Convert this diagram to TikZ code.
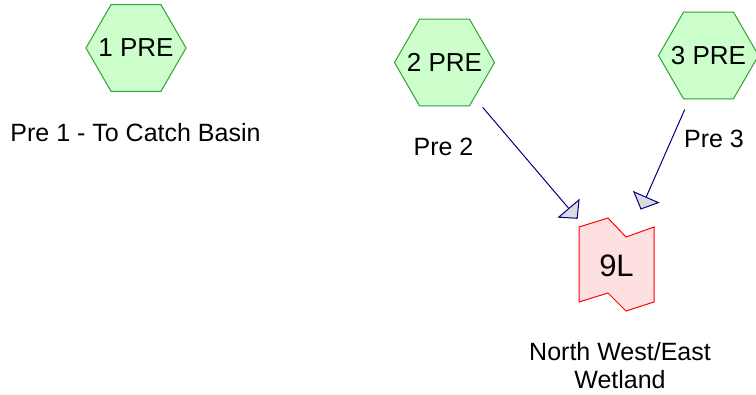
\documentclass[tikz,border=0pt]{standalone}
\usepackage{fontspec}
\setmainfont{Liberation Sans}
\usetikzlibrary{shapes.geometric,arrows.meta,calc}
\definecolor{hexfill}{RGB}{204,255,204}
\definecolor{hexdraw}{RGB}{51,160,51}
\definecolor{wetfill}{RGB}{255,224,224}
\definecolor{wetdraw}{RGB}{255,0,0}
\definecolor{arrdraw}{RGB}{0,0,128}
\definecolor{tipfill}{RGB}{220,220,220}
\begin{document}
\begin{tikzpicture}[x=1pt,y=-1pt,
  hexnode/.style={regular polygon, regular polygon sides=6, minimum size=100pt, inner sep=0pt,
    fill=hexfill, draw=hexdraw, line width=1pt,
    label={[font=\fontsize{26}{30}\selectfont, inner sep=0pt]center:#1}},
  lbl/.style={font=\fontsize{25}{28}\selectfont, align=center, inner sep=0pt},
  wetshape/.style={draw=wetdraw, fill=wetfill, line width=1pt, line join=miter},
  flow/.style={draw=arrdraw, line width=1pt,
    -{Triangle[length=14pt,width=29pt,fill=tipfill]},
    shorten <=59pt, shorten >=60pt}]
\useasboundingbox (0,0) rectangle (756,395);
% preliminary nodes
\node[hexnode={1 PRE}] (h1) at (136,48) {};
\node[hexnode={2 PRE}] (h2) at (444.5,62.5) {};
\node[hexnode={3 PRE}] (h3) at (708.5,55.5) {};
% wetland
\coordinate (c9) at (616.5,264.5);
\draw[wetshape] ($(c9)+(-37.5,-37.5)$) -- ++(29,-9) -- ++(18,19) -- ++(28,-10)
  -- ++(0,75) -- ++(-28,9) -- ++(-18,-18) -- ++(-29,9) -- cycle;
\node[inner sep=0pt, font=\fontsize{31}{36}\selectfont] (L9) at ($(c9)+(0,1.5)$) {9L};
% labels
\node[lbl, anchor=base] (t1) at (135.5,142) {Pre 1 - To Catch Basin};
\node[lbl, anchor=base] (t2) at (443.5,156) {Pre 2};
\node[lbl, anchor=base] (t3) at (714,148) {Pre 3};
\node[lbl] (t9) at (620,365.5) {North West/East\\Wetland};
% connectors
\draw[flow] (h2.center) -- (c9);
\draw[flow] (h3.center) -- (c9);
\end{tikzpicture}
\end{document}
